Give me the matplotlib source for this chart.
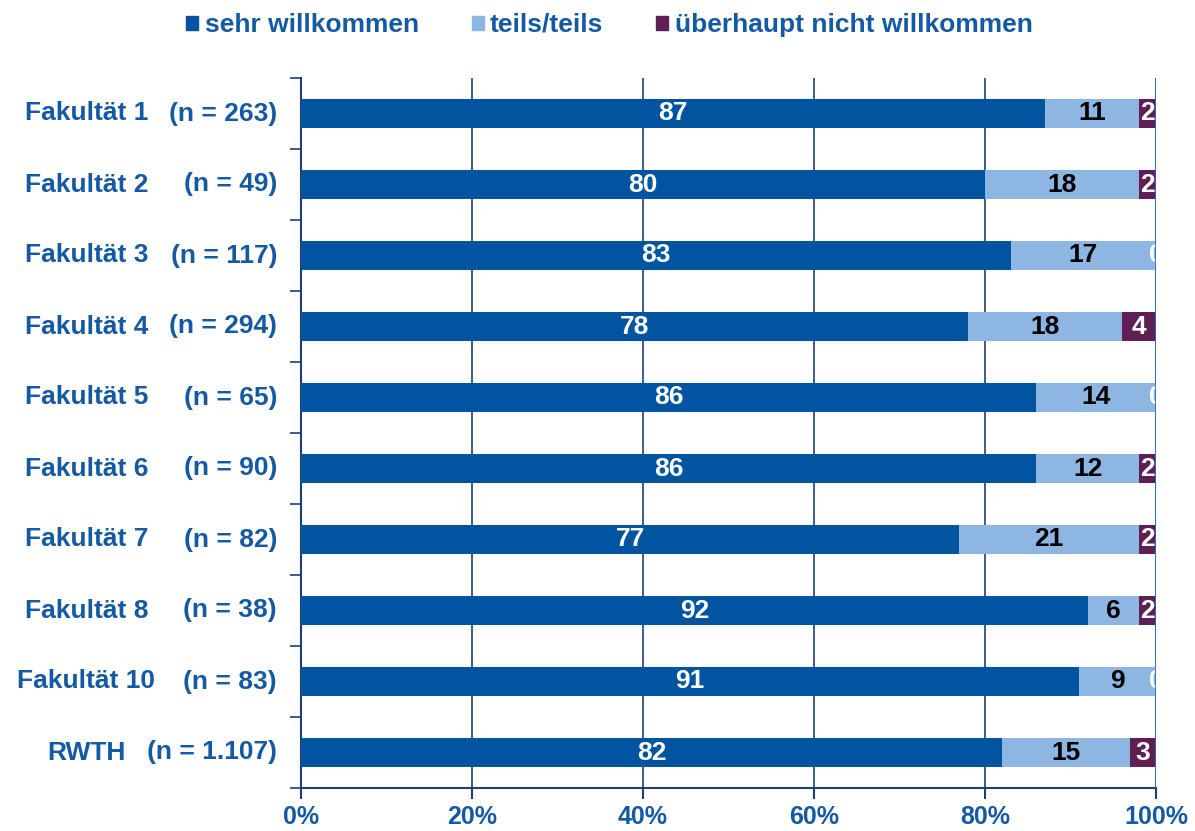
import numpy as np
import matplotlib.pyplot as plt
from matplotlib.patches import Patch

plt.rcParams['font.family'] = ['Liberation Sans', 'DejaVu Sans']
plt.rcParams['font.weight'] = 'bold'

# Daten
fakultaeten = ['Fakultät 1', 'Fakultät 2', 'Fakultät 3', 'Fakultät 4', 'Fakultät 5',
               'Fakultät 6', 'Fakultät 7', 'Fakultät 8', 'Fakultät 10', 'RWTH']
n_werte = ['(n = 263)', '(n = 49)', '(n = 117)', '(n = 294)', '(n = 65)',
           '(n = 90)', '(n = 82)', '(n = 38)', '(n = 83)', '(n = 1.107)']
sehr = [87, 80, 83, 78, 86, 86, 77, 92, 91, 82]
teils = [11, 18, 17, 18, 14, 12, 21, 6, 9, 15]
nicht = [2, 2, 0, 4, 0, 2, 2, 2, 0, 3]
serien = ['sehr willkommen', 'teils/teils', 'überhaupt nicht willkommen']

c_sehr = '#0054A0'
c_teils = '#8DB6E3'
c_nicht = '#5F1F55'
c_text = '#1459A4'
c_linie = '#1F3F74'
fs = 19

fig = plt.figure(figsize=(11.95, 8.31), dpi=100)
ax = fig.add_axes([301 / 1195, 1 - 788 / 831, 855 / 1195, 710 / 831])

y = np.arange(len(fakultaeten))
h = 0.4
s = np.array(sehr)
t = np.array(teils)
u = np.array(nicht)

ax.barh(y, s, height=h, color=c_sehr, zorder=3)
ax.barh(y, t, left=s, height=h, color=c_teils, zorder=3)
ax.barh(y, u, left=s + t, height=h, color=c_nicht, zorder=3)

for i in range(len(y)):
    ax.text(s[i] / 2, y[i], str(s[i]), color='white', ha='center', va='center',
            fontsize=fs, fontweight='bold', zorder=4)
    ax.text(s[i] + t[i] / 2, y[i], str(t[i]), color='black', ha='center', va='center',
            fontsize=fs, fontweight='bold', zorder=4)
    ax.text(s[i] + t[i] + u[i] / 2, y[i], str(u[i]), color='white', ha='center',
            va='center', fontsize=fs, fontweight='bold', zorder=4, clip_on=True)

ax.set_xlim(0, 100)
ax.set_ylim(len(y) - 0.5, -0.5)

ax.set_xticks(np.arange(0, 101, 20))
ax.set_xticklabels([f'{v}%' for v in range(0, 101, 20)], fontsize=18,
                   fontweight='bold', color=c_text)
ax.tick_params(axis='x', length=8, width=1.5, color=c_linie, pad=4)
ax.set_yticks(np.arange(-0.5, len(y), 1))
ax.set_yticklabels([])
ax.tick_params(axis='y', length=8, width=1.2, color=c_linie)
ax.grid(axis='x', color=c_linie, linewidth=1.2, zorder=0)

for sp in ['top', 'right']:
    ax.spines[sp].set_visible(False)
for sp in ['left', 'bottom']:
    ax.spines[sp].set_color(c_linie)
    ax.spines[sp].set_linewidth(1.5)
ax.axvline(100, color='#2E6FB8', linewidth=2, zorder=5)

for i in range(len(y)):
    ax.text(-25.1, y[i], fakultaeten[i], ha='center', va='center', fontsize=fs,
            fontweight='bold', color=c_text, clip_on=False)
    ax.text(-2.8, y[i], n_werte[i], ha='right', va='center', fontsize=fs,
            fontweight='bold', color=c_text, clip_on=False)

handles = [Patch(color=c_sehr), Patch(color=c_teils), Patch(color=c_nicht)]
fig.legend(handles, serien, loc='center', bbox_to_anchor=(0.51, 1 - 25 / 831), ncol=3,
           frameon=False, handlelength=0.45, handleheight=0.45, handletextpad=0.25,
           columnspacing=2.0, prop={'size': fs, 'weight': 'bold'},
           labelcolor=c_text)

fig.savefig('out.png', dpi=100)
